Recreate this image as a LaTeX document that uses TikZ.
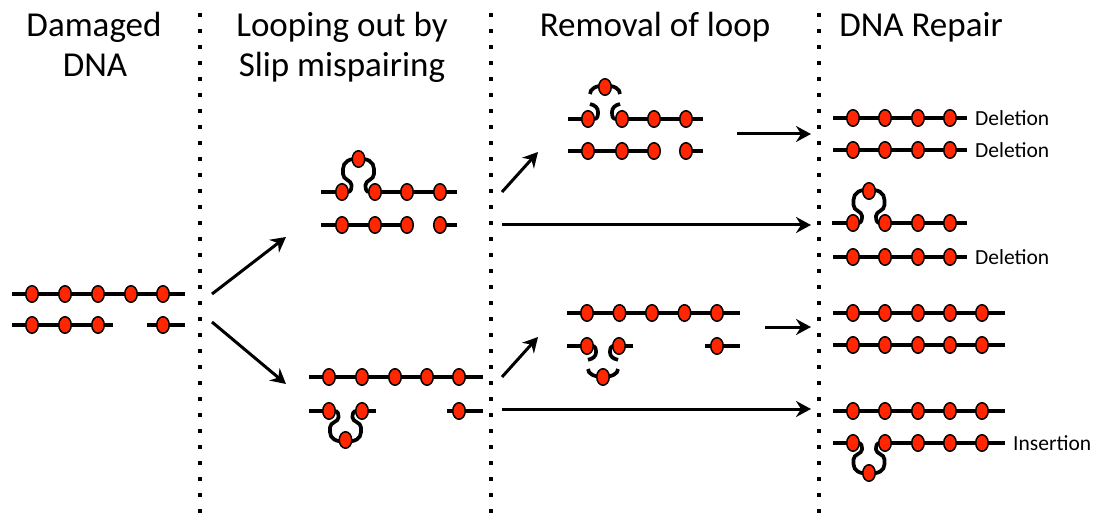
\documentclass[tikz,border=0pt]{standalone}
\usepackage{fontspec}
\setmainfont{Carlito}
\usetikzlibrary{positioning,shapes.geometric,arrows.meta}

\definecolor{beadred}{RGB}{255,38,0}

\tikzset{
  bead/.style={ellipse, draw=black, fill=beadred, line width=1.5pt,
    minimum width=12.5pt, minimum height=16.5pt, inner sep=0pt},
  strand/.style={line width=3.7pt},
  divider/.style={line width=4pt, dash pattern=on 4pt off 12pt},
  steparrow/.style={line width=3pt, -{Stealth[length=15pt, width=16pt, inset=5pt]}},
  title/.style={font=\fontsize{35}{40}\selectfont, anchor=base},
  tag/.style={font=\fontsize{21.5}{24}\selectfont, anchor=west, inner sep=0pt},
  % looped-out stretch, both sides, drawn upwards from the strand
  loopout/.pic={\foreach \s in {1,-1}
    \draw[strand, xscale=\s] (-16,0) -- (-11,0) .. controls (-7.5,0) and (-7,-3) .. (-7,-7)
      .. controls (-7,-12) and (-15.5,-12) .. (-15.5,-18) -- (-15.5,-23)
      .. controls (-15.5,-30) and (-9,-34) .. (0,-33);},
  % the same stretch once it has been cut away
  cutloop/.pic={\foreach \s in {1,-1} {
    \draw[strand, xscale=\s] (-16,0) -- (-11,0) .. controls (-7.5,0) and (-7,-3) .. (-7,-7)
      .. controls (-7,-11) and (-10,-14) .. (-15,-15);
    \draw[strand, xscale=\s] (-15,-25) .. controls (-15,-30) and (-9,-34) .. (0,-33);
  }},
}

\begin{document}
\begin{tikzpicture}[x=1pt, y=-1pt]
\useasboundingbox (0,0) rectangle (1106,513);

% column dividers
\foreach \x in {200,491,819}
  \draw[divider] (\x,13) -- (\x,513);

% headings
\node[title] (h1a) at (94,37) {Damaged};
\node[title] (h1b) at (95,77) {DNA};
\node[title] (h2a) at (342,37) {Looping out by};
\node[title] (h2b) at (342,77) {Slip mispairing};
\node[title] (h3) at (655,37) {Removal of loop};
\node[title] (h4) at (921,37) {DNA Repair};

% damaged DNA
\draw[strand] (12,294) -- (185,294);
\draw[strand] (12,325) -- (113,325) (147,325) -- (185,325);
\foreach \x [count=\i] in {32,65,98,131,163}
  \node[bead] (d-\i) at (\x,294) {};
\foreach \x [count=\i] in {32,65,98,163}
  \node[bead] (e-\i) at (\x,325) {};

% slip in the upper strand
\draw[strand] (321,192) -- (342,192) (375,192) -- (457,192);
\pic at (358.5,192) {loopout};
\draw[strand] (321,225) -- (413,225) (433,225) -- (457,225);
\foreach \x [count=\i] in {342,375,407,440} {
  \node[bead] (s1-\i) at (\x,192) {};
  \node[bead] (s2-\i) at (\x,225) {};
}
\node[bead] (s1-loop) at (358.5,159) {};

% slip in the lower strand
\draw[strand] (309,377) -- (483,377);
\draw[strand] (309,411) -- (329,411) (362,411) -- (376,411) (447,411) -- (483,411);
\pic[yscale=-0.92] at (345.5,411) {loopout};
\foreach \x [count=\i] in {329,362,395,427,459}
  \node[bead] (t1-\i) at (\x,377) {};
\foreach \x [count=\i] in {329,362,459}
  \node[bead] (t2-\i) at (\x,411) {};
\node[bead] (t2-loop) at (345.5,440) {};

% loop cut out of the upper strand
\draw[strand] (568,119) -- (588,119) (622,119) -- (703,119);
\pic at (605,119) {cutloop};
\draw[strand] (568,151) -- (660,151) (682,151) -- (703,151);
\foreach \x [count=\i] in {588,622,654,686} {
  \node[bead] (u1-\i) at (\x,119) {};
  \node[bead] (u2-\i) at (\x,151) {};
}
\node[bead] (u1-loop) at (605,87) {};

% loop cut out of the lower strand
\draw[strand] (567,313) -- (740,313);
\draw[strand] (567,346) -- (587,346) (619,346) -- (633,346) (705,346) -- (740,346);
\pic[yscale=-0.92] at (603,346) {cutloop};
\foreach \x [count=\i] in {587,619.5,652,684.5,717}
  \node[bead] (v1-\i) at (\x,313) {};
\foreach \x [count=\i] in {587,619,717}
  \node[bead] (v2-\i) at (\x,346) {};
\node[bead] (v2-loop) at (603,377) {};

% repaired strands
\foreach \y/\n in {118/1,150/2,257/4} {
  \draw[strand] (833,\y) -- (967,\y);
  \foreach \x [count=\i] in {853,885,918,950}
    \node[bead] (r\n-\i) at (\x,\y) {};
}
\draw[strand] (832,223) -- (853,223) (885,223) -- (967,223);
\pic at (869,223) {loopout};
\foreach \x [count=\i] in {853,885,918,950}
  \node[bead] (r3-\i) at (\x,223) {};
\node[bead] (r3-loop) at (869,191) {};

\foreach \y/\n in {313/5,345/6,411/7} {
  \draw[strand] (833,\y) -- (1005,\y);
  \foreach \x [count=\i] in {853,885,918,950,982}
    \node[bead] (r\n-\i) at (\x,\y) {};
}
\draw[strand] (833,443) -- (853,443) (885,443) -- (1005,443);
\pic[yscale=-0.92] at (869,443) {loopout};
\foreach \x [count=\i] in {853,885,918,950,982}
  \node[bead] (r8-\i) at (\x,443) {};
\node[bead] (r8-loop) at (869,473) {};

\node[tag, right=18pt of r1-4] (del1) {Deletion};
\node[tag, right=18pt of r2-4] (del2) {Deletion};
\node[tag, right=18pt of r4-4] (del4) {Deletion};
\node[tag, right=24pt of r8-5] (ins8) {Insertion};

% arrows between the stages
\coordinate (a1s) at (212,294); \coordinate (a1e) at (286,237);
\coordinate (a2s) at (212,322); \coordinate (a2e) at (286,384);
\coordinate (a3s) at (502,192); \coordinate (a3e) at (538,152);
\coordinate (a4s) at (502,225); \coordinate (a4e) at (811,225);
\coordinate (a5s) at (502,377); \coordinate (a5e) at (538,337);
\coordinate (a6s) at (502,409); \coordinate (a6e) at (811,409);
\coordinate (a7s) at (737,134); \coordinate (a7e) at (811,134);
\coordinate (a8s) at (765,327); \coordinate (a8e) at (811,327);
\foreach \a in {1,...,8}
  \draw[steparrow] (a\a s) -- (a\a e);

\end{tikzpicture}
\end{document}
